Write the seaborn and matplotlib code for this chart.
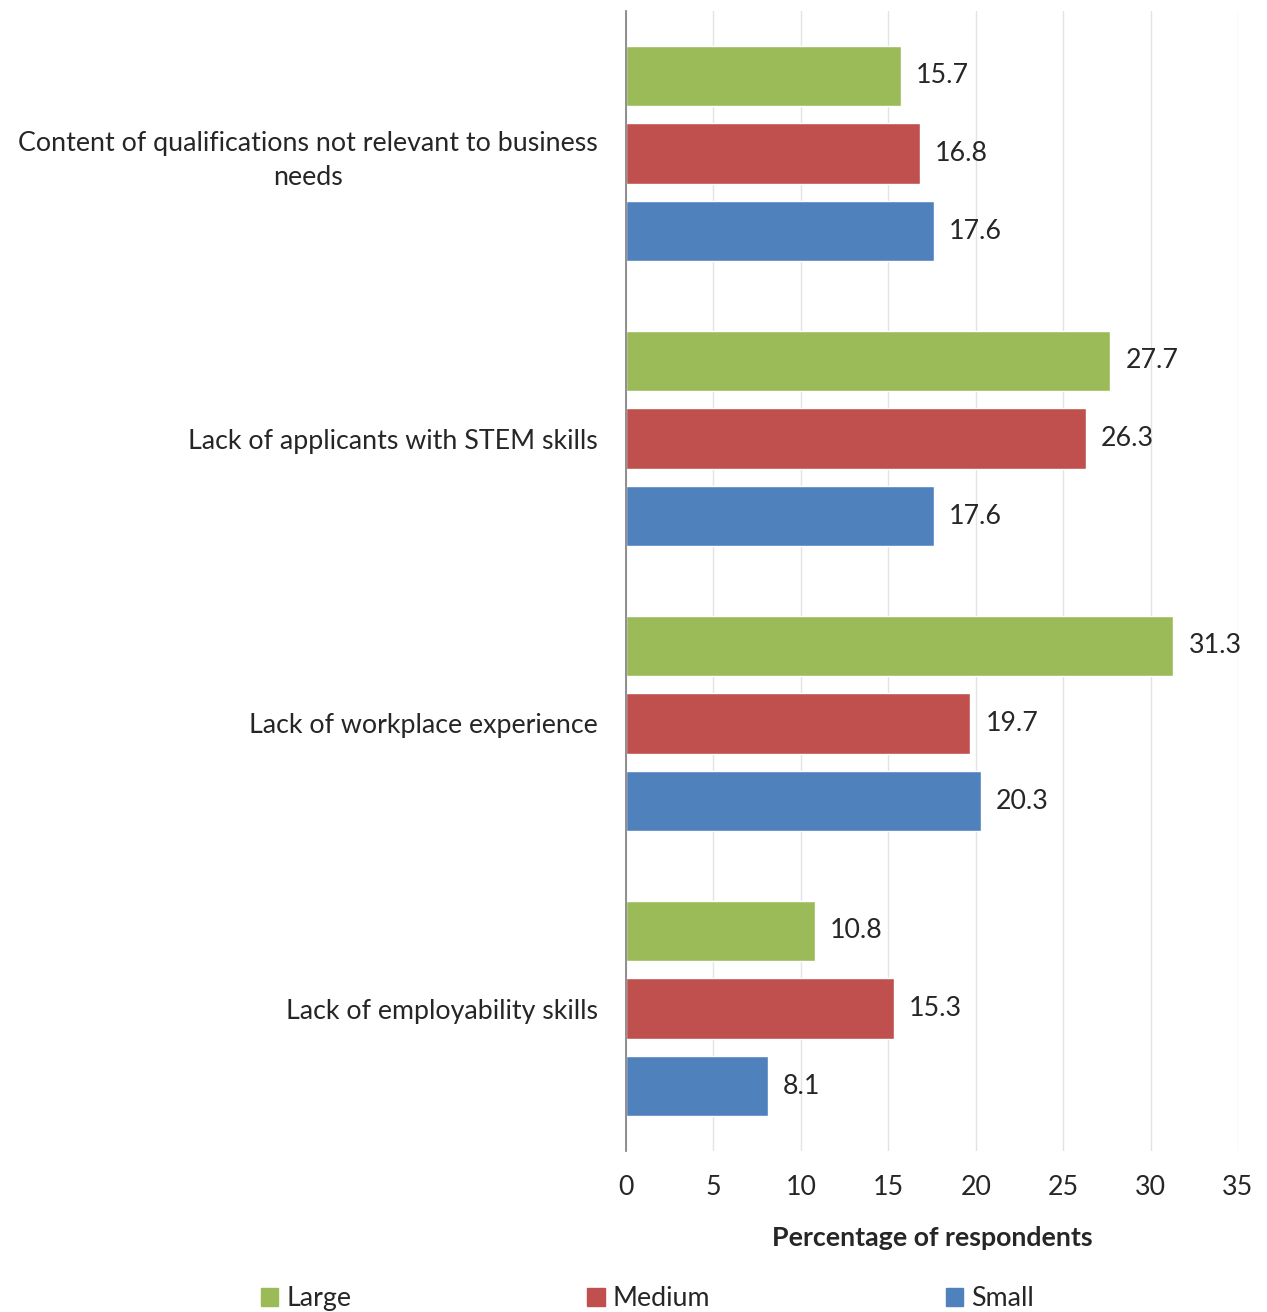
import pandas as pd
import matplotlib.pyplot as plt
import seaborn as sns
from matplotlib.patches import Patch

#------------------------------------------
categories=['Content of qualifications not relevant to business\nneeds',
            'Lack of applicants with STEM skills',
            'Lack of workplace experience',
            'Lack of employability skills']
sizes=['Large', 'Medium', 'Small']
large=[15.7, 27.7, 31.3, 10.8]
medium=[16.8, 26.3, 19.7, 15.3]
small=[17.6, 17.6, 20.3, 8.1]
colors=['#9BBB59', '#C0504D', '#4F81BD']

######################################################
df=pd.DataFrame({'category': categories*3,
                 'size': [s for s in sizes for _ in categories],
                 'value': large+medium+small})

sns.set_style('white')
plt.rcParams['font.family']=['Lato', 'DejaVu Sans']
fs=19.3

fig=plt.figure(figsize=(12.67, 13.12), dpi=100)
ax=fig.add_axes([626/1267, 1-1151/1312, (1238-626)/1267, (1151-11)/1312])

sns.barplot(data=df, y='category', x='value', hue='size', hue_order=sizes,
            palette=colors, orient='h', width=0.816, gap=0.226,
            saturation=1, legend=False, ax=ax)

#value labels
for c in ax.containers:
    ax.bar_label(c, labels=[f'{v:.1f}' for v in c.datavalues],
                 padding=11, fontsize=fs, clip_on=False)

#adjust
ax.set_xlim(0, 35)
ax.set_ylim(3.5, -0.5)
ax.set_xticks(range(0, 36, 5))
ax.grid(axis='x', color='#E3E3E3', linewidth=1)
ax.set_axisbelow(True)
for s in ['top', 'right', 'bottom']:
    ax.spines[s].set_visible(False)
ax.spines['left'].set_color('#868686')
ax.spines['left'].set_linewidth(1.3)
ax.tick_params(axis='x', length=0, pad=17, labelsize=fs)
ax.tick_params(axis='y', length=0, pad=20, labelsize=fs)
for t in ax.get_yticklabels():
    t.set_multialignment('center')
    t.set_linespacing(1.45)
ax.set_ylabel('')
ax.set_xlabel('Percentage of respondents', fontsize=fs, weight='bold', labelpad=19)

#legend
handles=[Patch(color=c, label=s) for c, s in zip(colors, sizes)]
fig.legend(handles=handles, loc='lower center', bbox_to_anchor=(0.511, -0.018),
           ncol=3, frameon=False, fontsize=fs, handlelength=0.65,
           handleheight=0.65, handletextpad=0.3, columnspacing=8.8)

plt.savefig('out.png', dpi=100)
plt.close()
